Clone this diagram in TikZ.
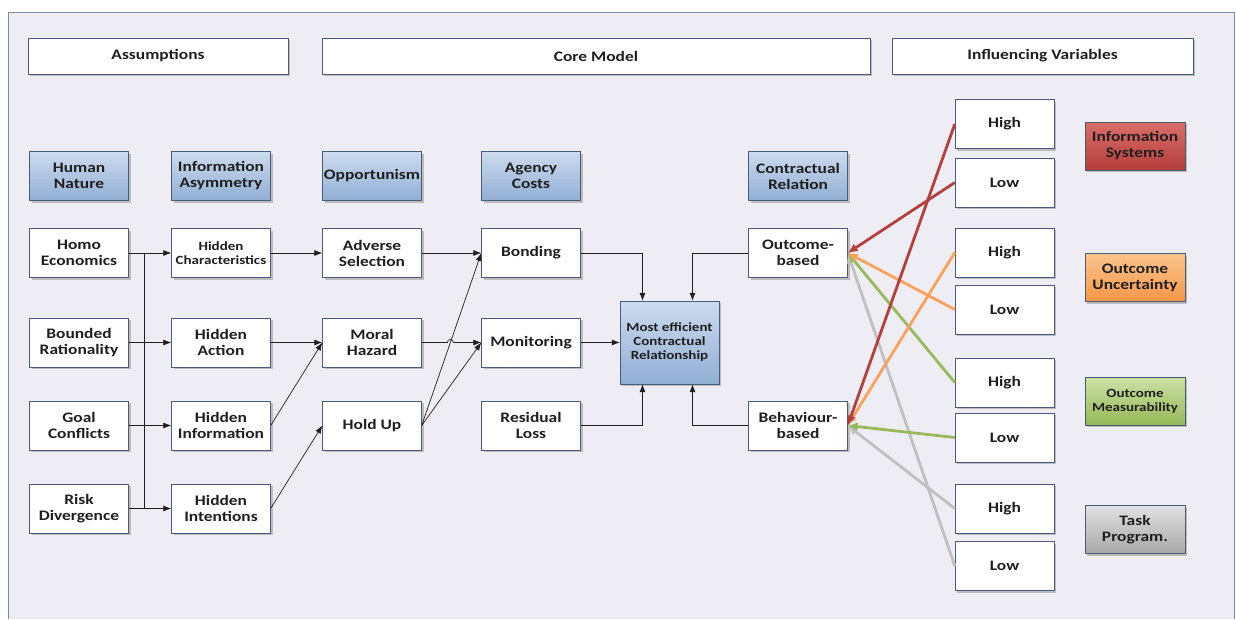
\documentclass[tikz,border=0pt]{standalone}
\usepackage{fontspec}
\setmainfont{Carlito}[FakeStretch=1.2]
\usetikzlibrary{arrows.meta,shadows,calc}

\definecolor{bgframe}{RGB}{238,237,243}
\definecolor{frameline}{RGB}{125,140,165}
\definecolor{boxline}{RGB}{72,92,122}
\definecolor{bluetop}{RGB}{205,219,238}
\definecolor{bluebot}{RGB}{145,174,212}
\definecolor{redtop}{RGB}{218,110,105}
\definecolor{redbot}{RGB}{180,62,60}
\definecolor{orangetop}{RGB}{251,196,140}
\definecolor{orangebot}{RGB}{246,150,72}
\definecolor{greentop}{RGB}{205,224,165}
\definecolor{greenbot}{RGB}{150,184,88}
\definecolor{graytop}{RGB}{225,225,225}
\definecolor{graybot}{RGB}{168,168,168}
\definecolor{lnred}{RGB}{180,64,62}
\definecolor{lnorange}{RGB}{248,162,92}
\definecolor{lngreen}{RGB}{152,186,92}
\definecolor{lngray}{RGB}{192,192,192}

\begin{document}
\begin{tikzpicture}[x=1pt,y=-1pt,
  every node/.style={font=\bfseries\fontsize{14.5}{16}\selectfont,align=center,inner sep=1pt,text=black!88},
  box/.style={draw=boxline,fill=white,minimum width=99pt,minimum height=49pt,
    drop shadow={shadow xshift=2pt,shadow yshift=-2pt,fill=black!45}},
  small/.style={font=\bfseries\fontsize{12.5}{14}\selectfont},
  title/.style={box,minimum height=36pt},
  cat/.style={box,top color=bluetop,bottom color=bluebot},
  var/.style={box,minimum width=100pt,minimum height=48pt},
  arr/.style={line width=0.7pt,-{Latex[length=8pt,width=6pt]},black!88},
  infl/.style={line width=2.8pt,-{Latex[length=10pt,width=9pt]}}]
  \useasboundingbox (0,0) rectangle (1236,619);
  \fill[white] (0,0) rectangle (1236,619);
  \fill[bgframe] (8,12) rectangle (1234,619);
  \draw[frameline] (8,619) -- (8,12) -- (1234,12) -- (1234,619);

  \node[title,minimum width=260pt] (assum) at (158,56) {Assumptions};
  \node[title,minimum width=548pt] (core) at (596,56) {Core Model};
  \node[title,minimum width=301pt] (infvar) at (1042.5,56) {Influencing Variables};

  \node[cat] (human) at (79,176) {Human\\Nature};
  \node[cat] (asym) at (221,176) {Information\\Asymmetry};
  \node[cat] (opport) at (372,176) {Opportunism};
  \node[cat] (agency) at (531,176) {Agency\\Costs};
  \node[cat] (contract) at (798,176) {Contractual\\Relation};

  \node[box] (homo) at (79,253) {Homo\\Economics};
  \node[box] (bounded) at (79,342.5) {Bounded\\Rationality};
  \node[box] (goal) at (79,425.5) {Goal\\Conflicts};
  \node[box] (risk) at (79,508.5) {Risk\\Divergence};
  \node[box,small] (hchar) at (221,253) {Hidden\\Characteristics};
  \node[box] (hact) at (221,342.5) {Hidden\\Action};
  \node[box] (hinfo) at (221,425.5) {Hidden\\Information};
  \node[box] (hint) at (221,508.5) {Hidden\\Intentions};
  \node[box] (adverse) at (372,253) {Adverse\\Selection};
  \node[box] (moral) at (372,342.5) {Moral\\Hazard};
  \node[box] (holdup) at (372,425.5) {Hold Up};
  \node[box] (bond) at (531,253) {Bonding};
  \node[box] (monitor) at (531,342.5) {Monitoring};
  \node[box] (resid) at (531,425.5) {Residual\\Loss};
  \node[cat,small,minimum height=83pt] (eff) at (669.5,342.5) {Most efficient\\Contractual\\Relationship};
  \node[box] (outcome) at (798,253) {Outcome-\\based};
  \node[box] (behav) at (798,425.5) {Behaviour-\\based};

  \node[box] (h1) at (1004.5,124) {High};
  \node[box] (l1) at (1004.5,182.5) {Low};
  \node[box] (h2) at (1004.5,252.5) {High};
  \node[box] (l2) at (1004.5,309.5) {Low};
  \node[box] (h3) at (1004.5,382.5) {High};
  \node[box] (l3) at (1004.5,437.5) {Low};
  \node[box] (h4) at (1004.5,508.5) {High};
  \node[box] (l4) at (1004.5,566) {Low};

  \node[var,top color=redtop,bottom color=redbot] (infsys) at (1135,146) {Information\\Systems};
  \node[var,top color=orangetop,bottom color=orangebot] (outunc) at (1135,277.5) {Outcome\\Uncertainty};
  \node[var,small,top color=greentop,bottom color=greenbot] (outmeas) at (1135,401) {Outcome\\Measurability};
  \node[var,top color=graytop,bottom color=graybot] (taskprog) at (1135,529.5) {Task\\Program.};

  \coordinate (bus) at ($(homo.east)!0.37!(hchar.west)$);
  \draw[black!88,line width=0.7pt] (bus) -- (bus |- risk.east);
  \draw[arr] (homo.east) -- (hchar.west);
  \draw[arr] (bounded.east) -- (hact.west);
  \draw[arr] (goal.east) -- (hinfo.west);
  \draw[arr] (risk.east) -- (hint.west);
  \draw[arr] (hchar.east) -- (adverse.west);
  \draw[arr] (hact.east) -- (moral.west);
  \draw[arr] (hinfo.east) -- (moral.west);
  \draw[arr] (hint.east) -- (holdup.west);
  \draw[arr] (adverse.east) -- (bond.west);
  \draw[arr] (holdup.east) -- (bond.west);
  \draw[arr] (holdup.east) -- (monitor.west);
  \path (holdup.east) -- (bond.west) coordinate[pos=0.481] (hop);
  \draw[arr] (moral.east) -- ($(hop |- moral.east)+(-3,0)$) arc[start angle=180,end angle=0,radius=3pt] -- (monitor.west);
  \draw[arr] (bond.east) -| ($(eff.north)+(-27,0)$);
  \draw[arr] (monitor.east) -- (eff.west);
  \draw[arr] (resid.east) -| ($(eff.south)+(-27,0)$);
  \draw[arr] (outcome.west) -| ($(eff.north)+(23,0)$);
  \draw[arr] (behav.west) -| ($(eff.south)+(23,0)$);

  \draw[infl,lngray] (h4.west) -- (behav.east);
  \draw[infl,lngray] (l4.west) -- (outcome.east);
  \draw[infl,lngreen] (h3.west) -- (outcome.east);
  \draw[infl,lngreen] (l3.west) -- (behav.east);
  \draw[infl,lnorange] (h2.west) -- (behav.east);
  \draw[infl,lnorange] (l2.west) -- (outcome.east);
  \draw[infl,lnred] (h1.west) -- (behav.east);
  \draw[infl,lnred] (l1.west) -- (outcome.east);
\end{tikzpicture}
\end{document}
